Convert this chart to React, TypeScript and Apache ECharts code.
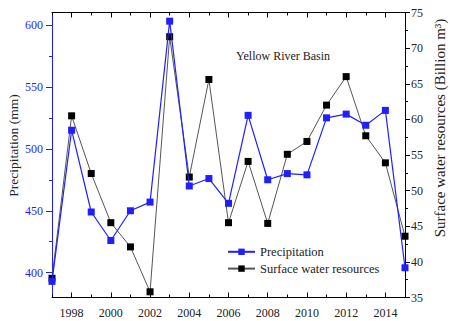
import React, { useEffect, useRef } from "react";
import * as echarts from "echarts";

const years = [1997, 1998, 1999, 2000, 2001, 2002, 2003, 2004, 2005, 2006, 2007, 2008, 2009, 2010, 2011, 2012, 2013, 2014, 2015];
const precipitation = [393, 515, 449, 426, 450, 457, 603, 470, 476, 456, 527, 475, 480, 479, 525, 528, 519, 531, 404];
const surfaceWater = [37.7, 60.5, 52.4, 45.5, 42.1, 35.8, 71.6, 51.9, 65.6, 45.5, 54.1, 45.4, 55.1, 56.9, 62.0, 66.0, 57.7, 53.9, 43.6];
const majorYears = [1998, 2000, 2002, 2004, 2006, 2008, 2010, 2012, 2014];
const minorYears = [1997, 1999, 2001, 2003, 2005, 2007, 2009, 2011, 2013, 2015];
const precipTicks = [400, 450, 500, 550, 600];
const precipMinorTicks = [425, 475, 525, 575];

const FONT = "Liberation Serif";
const BLUE = "#1f1fff";

export default function App() {
  const ref = useRef<HTMLDivElement>(null);
  useEffect(() => {
    if (!ref.current) return;
    const chart = echarts.init(ref.current, undefined, { renderer: "svg" });
    const grid = { left: 52, right: 45, top: 12.5, bottom: 23.5 };
    const xCommon = { type: "value", min: 1997, max: 2015, splitLine: { show: false } };
    chart.setOption({
      animation: false,
      backgroundColor: "#fff",
      textStyle: { fontFamily: FONT },
      grid,
      title: {
        text: "Yellow River Basin",
        left: 236,
        top: 50,
        padding: 0,
        textStyle: { fontFamily: FONT, fontSize: 12, fontWeight: "normal", color: "#222" },
      },
      legend: {
        orient: "vertical",
        left: 227,
        top: 245.3,
        padding: 0,
        itemWidth: 27,
        itemHeight: 8,
        itemGap: 3.8,
        textStyle: { fontFamily: FONT, fontSize: 12.5, color: "#222" },
        data: ["Precipitation", "Surface water resources"],
      },
      xAxis: [
        {
          ...xCommon,
          position: "bottom",
          axisLine: { lineStyle: { color: "#000", width: 1 } },
          axisTick: { customValues: majorYears, inside: true, length: 5, lineStyle: { color: "#000" } },
          axisLabel: {
            customValues: majorYears,
            margin: 9,
            fontFamily: FONT,
            fontSize: 12,
            color: "#222",
            formatter: (v: number) => String(v),
          },
        },
        {
          ...xCommon,
          position: "bottom",
          axisLine: { show: false },
          axisTick: { customValues: minorYears, inside: true, length: 3, lineStyle: { color: "#000" } },
          axisLabel: { show: false },
        },
        {
          ...xCommon,
          position: "top",
          axisLine: { lineStyle: { color: "#000", width: 1 } },
          axisTick: { customValues: majorYears, inside: true, length: 5, lineStyle: { color: "#000" } },
          axisLabel: { show: false },
        },
        {
          ...xCommon,
          position: "top",
          axisLine: { show: false },
          axisTick: { customValues: minorYears, inside: true, length: 3, lineStyle: { color: "#000" } },
          axisLabel: { show: false },
        },
      ],
      yAxis: [
        {
          type: "value",
          position: "left",
          min: 380,
          max: 610,
          splitLine: { show: false },
          axisLine: { show: true, lineStyle: { color: BLUE, width: 1 } },
          axisTick: { show: true, customValues: precipTicks, length: 6, lineStyle: { color: BLUE } },
          axisLabel: {
            customValues: precipTicks,
            margin: 9,
            fontFamily: FONT,
            fontSize: 12,
            color: BLUE,
            formatter: (v: number) => String(v),
          },
        },
        {
          type: "value",
          position: "left",
          min: 380,
          max: 610,
          splitLine: { show: false },
          axisLine: { show: false },
          axisTick: { show: true, customValues: precipMinorTicks, length: 3, lineStyle: { color: BLUE } },
          axisLabel: { show: false },
        },
        {
          type: "value",
          position: "right",
          min: 35,
          max: 75,
          interval: 5,
          splitLine: { show: false },
          axisLine: { show: true, lineStyle: { color: "#000", width: 1 } },
          axisTick: { show: true, length: 5, lineStyle: { color: "#000" } },
          minorTick: { show: true, splitNumber: 2, length: 3, lineStyle: { color: "#000" } },
          axisLabel: { margin: 6, fontFamily: FONT, fontSize: 12, color: "#222" },
        },
      ],
      graphic: [
        {
          type: "text",
          x: 13.3,
          y: 145.5,
          rotation: Math.PI / 2,
          style: {
            text: "Precipitation (mm)",
            font: `13.5px ${FONT}`,
            fill: "#222",
            align: "center",
            verticalAlign: "middle",
          },
        },
        {
          type: "text",
          x: 439.5,
          y: 128,
          rotation: Math.PI / 2,
          style: {
            text: "Surface water resources (Billion m\u00b3)",
            font: `15px ${FONT}`,
            fill: "#222",
            align: "center",
            verticalAlign: "middle",
          },
        },
      ],
      series: [
        {
          name: "Precipitation",
          type: "line",
          xAxisIndex: 0,
          yAxisIndex: 0,
          data: years.map((y, i) => [y, precipitation[i]]),
          symbol: "rect",
          symbolSize: 7,
          lineStyle: { color: BLUE, width: 1.2 },
          itemStyle: { color: BLUE },
          z: 3,
        },
        {
          name: "Surface water resources",
          type: "line",
          xAxisIndex: 0,
          yAxisIndex: 2,
          data: years.map((y, i) => [y, surfaceWater[i]]),
          symbol: "rect",
          symbolSize: 7,
          lineStyle: { color: "#555", width: 1 },
          itemStyle: { color: "#000" },
          z: 2,
        },
      ],
    });
    return () => chart.dispose();
  }, []);
  return (
    <div
      ref={ref}
      style={{ position: "absolute", left: 0, top: 0, width: 450, height: 321 }}
    />
  );
}
